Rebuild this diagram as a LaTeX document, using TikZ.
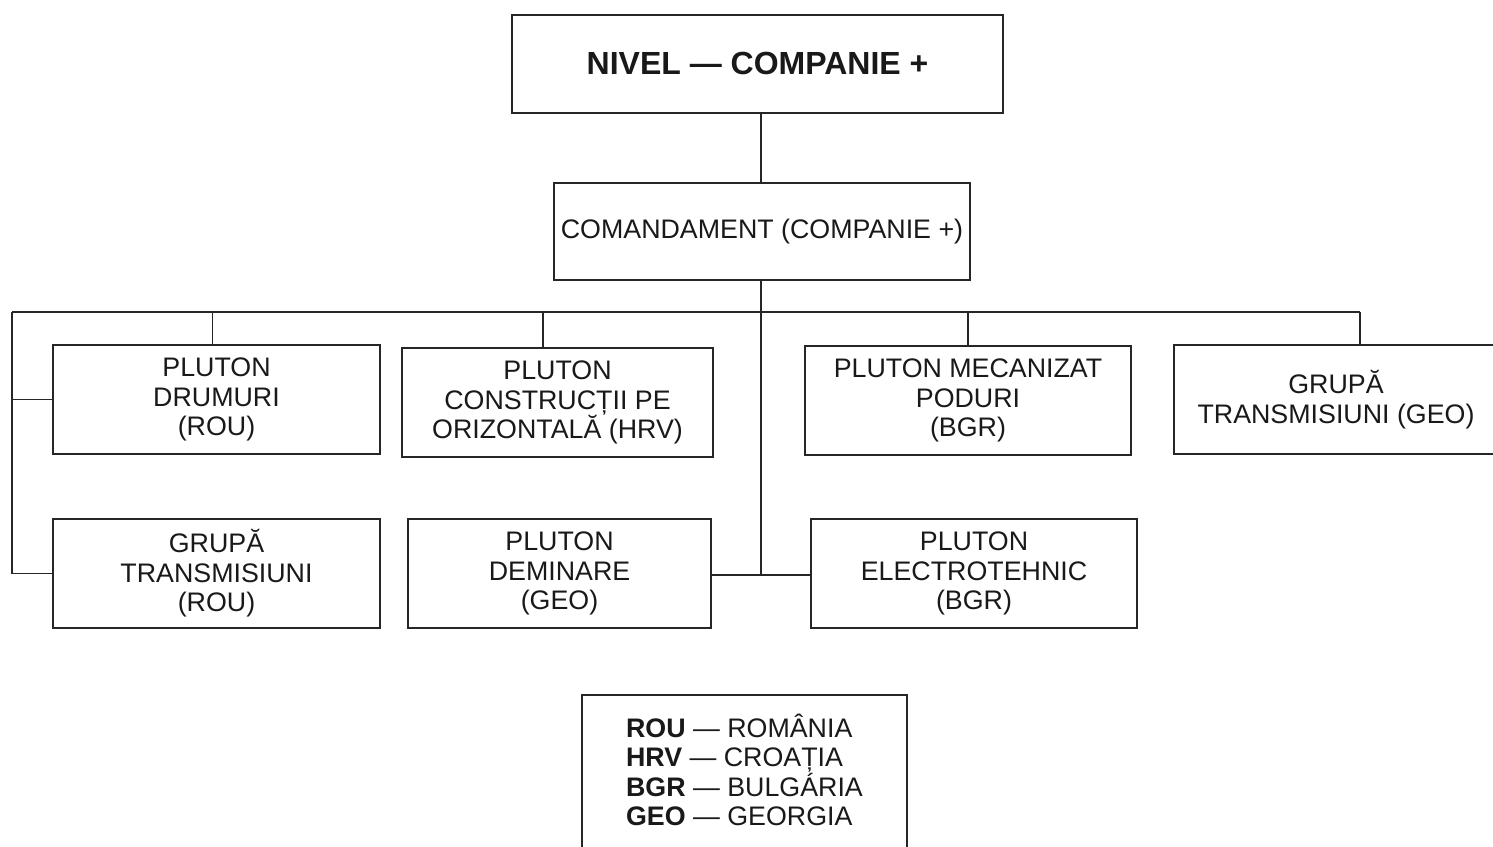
\documentclass[tikz,border=0pt]{standalone}
\usepackage{fontspec}
\setmainfont{Liberation Sans}
\usetikzlibrary{positioning}

\begin{document}
\begin{tikzpicture}[x=1pt,y=-1pt,line width=1.6pt,
			unit node/.style={draw=black!85,line width=1.6pt,align=center,inner sep=0pt,
				font=\fontsize{26.8}{29.5}\selectfont,text=black!90},
			head node/.style={unit node,font=\bfseries\fontsize{32}{36}\selectfont}
			]
			
			\useasboundingbox (0,0) rectangle (1493,846);
			
			\def \bus {312};
			
			% conducere
			\node[head node,minimum width=491,minimum height=98] at (757.5,64) (top) {\raisebox{2pt}{NIVEL — COMPANIE +}};
			\node[unit node,minimum width=416,minimum height=97] at (762,231.5) (cmd) {COMANDAMENT (COMPANIE +)};
			
			% plutoane, rand 1
			\node[unit node,minimum width=327,minimum height=109] at (216.5,399.5) (drum) {PLUTON\\DRUMURI\\(ROU)};
			\node[unit node,minimum width=311,minimum height=109] at (557.5,402.5) (constr) {PLUTON\\CONSTRUCȚII PE\\ORIZONTALĂ (HRV)};
			\node[unit node,minimum width=326,minimum height=109] at (968,400.5) (mecan) {PLUTON MECANIZAT\\PODURI\\(BGR)};
			\node[unit node,minimum width=324,minimum height=109] at (1336,399.5) (grpgeo) {GRUPĂ\\TRANSMISIUNI (GEO)};
			
			% plutoane, rand 2
			\node[unit node,minimum width=327,minimum height=109] at (216.5,573.5) (grprou) {GRUPĂ\\TRANSMISIUNI\\(ROU)};
			\node[unit node,minimum width=303,minimum height=109] at (559.5,573.5) (demin) {PLUTON\\DEMINARE\\(GEO)};
			\node[unit node,minimum width=326,minimum height=109] at (974,573.5) (electro) {PLUTON\\ELECTROTEHNIC\\(BGR)};
			
			% legenda
			\node[unit node,minimum width=325,minimum height=156,align=left] at (744.5,773) (legend)
				{\textbf{ROU} — ROMÂNIA\\\textbf{HRV} — CROAȚIA\\\textbf{BGR} — BULGÁRIA\\\textbf{GEO} — GEORGIA\rule[-6pt]{0pt}{1pt}};
			
			\coordinate (busL) at (12,\bus);
			\coordinate (busR) at (1360,\bus);
			\coordinate (mid) at (761,575);
			
			\draw[black!85] (top.south -| mid) -- (cmd.north -| mid);
			\draw[black!85] (cmd.south -| mid) -- (mid);
			\draw[black!85] (busL) -- (busR);
			
			\draw[black!85] (busL) |- (grprou.west);
			\draw[black!85] (busL |- drum.west) -- (drum.west);
			
			\draw[black!85] ([xshift=-4pt]drum.north |- busL) -- ([xshift=-4pt]drum.north);
			\draw[black!85] ([xshift=-14.5pt]constr.north |- busL) -- ([xshift=-14.5pt]constr.north);
			\draw[black!85] (mecan.north |- busL) -- (mecan.north);
			\draw[black!85] (busR) -- (busR |- grpgeo.north);
			
			\draw[black!85] (demin.east |- mid) -- (electro.west |- mid);
			\end{tikzpicture}
\end{document}
